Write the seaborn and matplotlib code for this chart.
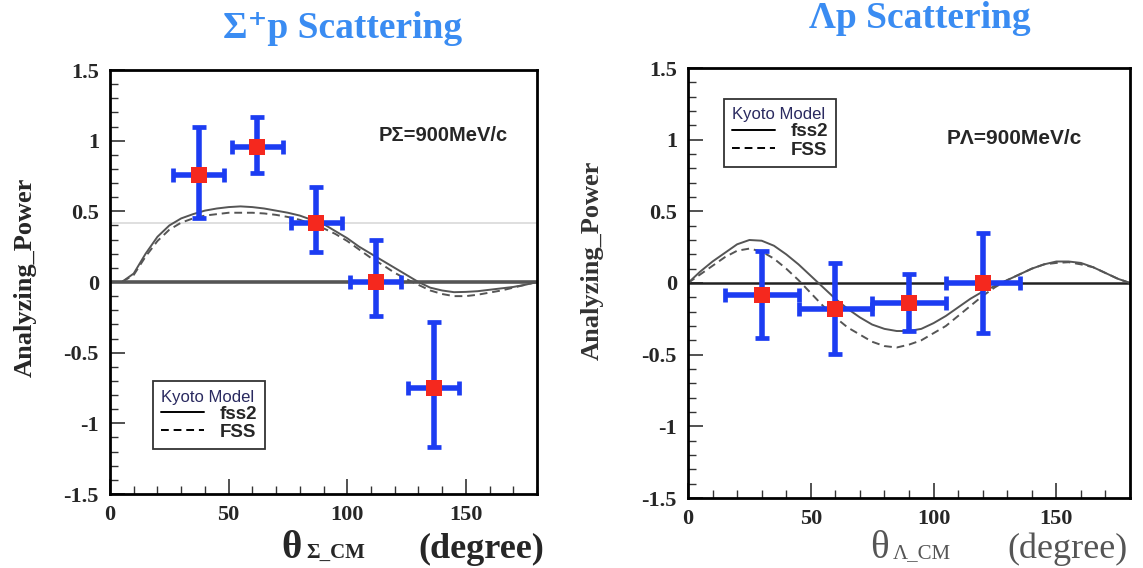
import numpy as np
import pandas as pd
import matplotlib
matplotlib.use("Agg")
import matplotlib.pyplot as plt
import seaborn as sns
from matplotlib.ticker import MultipleLocator, FixedLocator
from matplotlib.lines import Line2D

# ---------------- data ----------------
theta_grid = [0, 5, 10, 15, 20, 25, 30, 35, 40, 45, 50, 55, 60, 65, 70, 75, 80, 85, 90,
              95, 100, 105, 110, 115, 120, 125, 130, 135, 140, 145, 150, 155, 160, 165,
              170, 175, 180]

sig_fss2 = [0, 0, 0.06, 0.20, 0.32, 0.40, 0.45, 0.48, 0.505, 0.52, 0.53, 0.535, 0.53,
            0.52, 0.505, 0.49, 0.47, 0.44, 0.41, 0.36, 0.31, 0.25, 0.20, 0.15, 0.10,
            0.05, 0.0, -0.04, -0.06, -0.072, -0.07, -0.065, -0.055, -0.045, -0.035,
            -0.02, 0]
sig_fss = [0, 0, 0.05, 0.18, 0.29, 0.37, 0.42, 0.45, 0.47, 0.48, 0.49, 0.49, 0.49,
           0.485, 0.475, 0.46, 0.44, 0.41, 0.38, 0.34, 0.29, 0.23, 0.17, 0.12, 0.065,
           0.02, -0.02, -0.06, -0.085, -0.10, -0.10, -0.09, -0.075, -0.06, -0.04,
           -0.02, 0]
lam_fss2 = [0, 0.08, 0.15, 0.21, 0.27, 0.30, 0.295, 0.26, 0.20, 0.13, 0.05, -0.03,
            -0.11, -0.18, -0.24, -0.29, -0.32, -0.335, -0.335, -0.32, -0.28, -0.23,
            -0.17, -0.11, -0.06, -0.02, 0.02, 0.06, 0.10, 0.13, 0.15, 0.15, 0.14, 0.11,
            0.07, 0.03, 0]
lam_fss = [0, 0.06, 0.12, 0.18, 0.225, 0.24, 0.22, 0.17, 0.10, 0.02, -0.07, -0.16,
           -0.24, -0.31, -0.36, -0.41, -0.44, -0.45, -0.43, -0.40, -0.35, -0.30, -0.23,
           -0.16, -0.09, -0.03, 0.02, 0.06, 0.10, 0.13, 0.14, 0.145, 0.13, 0.11, 0.07,
           0.03, 0]

sig_theta = [37.5, 62, 87, 112, 136.5]
sig_ap = [0.756, 0.956, 0.42, 0.0, -0.75]
sig_err_lo = [0.30, 0.186, 0.205, 0.24, 0.42]
sig_err_hi = [0.344, 0.214, 0.25, 0.30, 0.47]
sig_xerr = [10.75, 10.75, 10.75, 10.75, 10.75]

lam_theta = [30, 60, 90, 120]
lam_ap = [-0.084, -0.183, -0.137, 0.0]
lam_err_lo = [0.30, 0.313, 0.20, 0.35]
lam_err_hi = [0.31, 0.323, 0.20, 0.35]
lam_xerr = [15, 15, 15, 15]

y_ticks = [-1.5, -1, -0.5, 0, 0.5, 1, 1.5]
y_ticklabels = ["-1.5", "-1", "-0.5", "0", "0.5", "1", "1.5"]
x_ticks = [0, 50, 100, 150]
x_ticklabels = ["0", "50", "100", "150"]
curve_labels = ["fss2", "FSS"]

# ---------------- style ----------------
sns.set_theme(style="white")
plt.rcParams['font.family'] = ['Liberation Serif', 'DejaVu Serif']

SERIF = ['Liberation Serif', 'DejaVu Serif']
SANS = ['Liberation Sans', 'DejaVu Sans']
BLUE_T = '#3a8cf2'
ERR_BLUE = '#1c3cf2'
RED = '#f5281e'

fig = plt.figure(figsize=(11.43, 5.68), dpi=100)
ax1 = fig.add_axes([110 / 1143, 74 / 568, 427 / 1143, 424 / 568])
ax2 = fig.add_axes([688 / 1143, 70 / 568, 442 / 1143, 430 / 568])


def draw_panel(ax, fss2, fss, th, ap, elo, ehi, xerr, zero_lw, zero_col):
    df = pd.DataFrame({"theta": theta_grid * 2,
                       "ap": fss2 + fss,
                       "model": [curve_labels[0]] * len(theta_grid) + [curve_labels[1]] * len(theta_grid)})
    ax.axhline(0, color=zero_col, lw=zero_lw, zorder=1)
    sns.lineplot(data=df, x="theta", y="ap", style="model", color='#555555', lw=1.4,
                 dashes={curve_labels[0]: (1, 0), curve_labels[1]: (4, 2.5)},
                 ax=ax, legend=False, zorder=2)
    ax.errorbar(th, ap, yerr=[elo, ehi], xerr=xerr, fmt='none', ecolor=ERR_BLUE,
                elinewidth=4, capsize=5, capthick=3.4, zorder=3)
    sns.scatterplot(x=th, y=ap, marker='s', s=125, color=RED, edgecolor=RED,
                    linewidth=0, ax=ax, zorder=4)
    ax.set_xlim(0, 180)
    ax.set_ylim(-1.5, 1.5)
    ax.xaxis.set_major_locator(FixedLocator(x_ticks))
    ax.set_xticklabels(x_ticklabels)
    ax.xaxis.set_minor_locator(MultipleLocator(10))
    ax.yaxis.set_major_locator(FixedLocator(y_ticks))
    ax.set_yticklabels(y_ticklabels)
    ax.yaxis.set_minor_locator(MultipleLocator(0.1))
    ax.tick_params(which='both', direction='in', top=False, right=False,
                   left=True, bottom=True, color='#333333')
    ax.tick_params(which='major', length=11, width=1.2, pad=8)
    ax.tick_params(which='minor', length=6, width=1.0)
    for lab in ax.get_xticklabels() + ax.get_yticklabels():
        lab.set_family(SERIF)
        lab.set_fontweight('bold')
        lab.set_fontsize(16)
    for sp in ax.spines.values():
        sp.set_visible(True)
        sp.set_color('black')
        sp.set_linewidth(2)
    ax.set_xlabel("")
    ax.set_ylabel("")
    ax.set_facecolor('white')
    handles = [Line2D([], [], color='black', lw=1.4, ls='-'),
               Line2D([], [], color='black', lw=1.4, dashes=(4, 2.5))]
    return handles


h1 = draw_panel(ax1, sig_fss2, sig_fss, sig_theta, sig_ap, sig_err_lo, sig_err_hi,
                sig_xerr, 2.6, '#555555')
ax1.axhline(0.42, color='#d9d9d9', lw=1.2, zorder=0.5)
h2 = draw_panel(ax2, lam_fss2, lam_fss, lam_theta, lam_ap, lam_err_lo, lam_err_hi,
                lam_xerr, 1.8, '#222222')


def add_legend(ax, handles, anchor):
    leg = ax.legend(handles, curve_labels, title="Kyoto Model", loc='upper left',
                    bbox_to_anchor=anchor, fancybox=False, frameon=True,
                    edgecolor='#333333', framealpha=1, handlelength=2.3,
                    borderpad=0.45, labelspacing=0.05, handletextpad=0.8,
                    borderaxespad=0,
                    prop={'family': SANS, 'weight': 'bold', 'size': 13.5})
    leg.get_frame().set_linewidth(1.3)
    leg.get_title().set_family(SANS)
    leg.get_title().set_fontsize(12)
    leg.get_title().set_color('#2a2a60')
    leg._legend_box.align = "left"
    return leg


add_legend(ax1, h1, (0.10, 0.266))
add_legend(ax2, h2, (0.081, 0.928))

ax1.text(0.63, 0.845, "PΣ=900MeV/c", transform=ax1.transAxes, family=SANS,
         fontweight='bold', fontsize=14.5, va='center', ha='left')
ax2.text(0.585, 0.835, "PΛ=900MeV/c", transform=ax2.transAxes, family=SANS,
         fontweight='bold', fontsize=15, va='center', ha='left')

# titles
fig.text(343 / 1143, 1 - 28 / 568, "Σ⁺p Scattering", family=SERIF, fontweight='bold',
         fontsize=27, color=BLUE_T, ha='center', va='center')
fig.text(920 / 1143, 1 - 19 / 568, "Λp Scattering", family=SERIF, fontweight='bold',
         fontsize=27, color=BLUE_T, ha='center', va='center')

# y labels
fig.text(25 / 1143, 1 - 277 / 568, "Analyzing_Power", family=SERIF, fontweight='bold',
         fontsize=19, rotation=90, ha='center', va='center')
fig.text(592 / 1143, 1 - 260 / 568, "Analyzing_Power", family=SERIF, fontweight='bold',
         fontsize=19, rotation=90, ha='center', va='center', color='#333333')

# x labels
base1 = 1 - 558 / 568
fig.text(281 / 1143, base1, "θ", family=SERIF, fontweight='bold', fontsize=28,
         ha='left', va='baseline')
fig.text(306 / 1143, base1, "Σ_CM", family=SERIF, fontweight='bold', fontsize=15,
         ha='left', va='baseline')
fig.text(418 / 1143, base1, "(degree)", family=SERIF, fontweight='bold', fontsize=26,
         ha='left', va='baseline')
fig.text(870 / 1143, base1, "θ", family=SERIF, fontsize=28, color='#555555',
         ha='left', va='baseline')
fig.text(893 / 1143, base1, "Λ_CM", family=SERIF, fontsize=15, color='#555555',
         ha='left', va='baseline')
fig.text(1007 / 1143, base1, "(degree)", family=SERIF, fontsize=26, color='#555555',
         ha='left', va='baseline')

fig.savefig("out.png", dpi=100, facecolor='white')
